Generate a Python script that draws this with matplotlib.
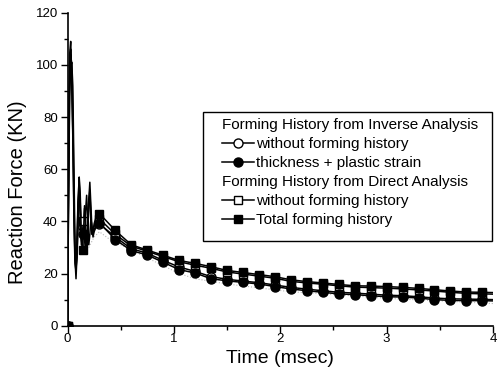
import matplotlib
matplotlib.use("Agg")
import matplotlib.pyplot as plt
from matplotlib.lines import Line2D
from matplotlib.patches import Rectangle

plt.rcParams['font.family'] = ['Liberation Sans', 'DejaVu Sans']

# ---- data ----
time_ms = [0.00, 0.01, 0.02, 0.03, 0.04, 0.05, 0.06, 0.07, 0.08, 0.09,
           0.10, 0.11, 0.12, 0.13, 0.14, 0.15, 0.16, 0.17, 0.18, 0.19,
           0.20, 0.21, 0.22, 0.23, 0.24, 0.25, 0.27,
           0.30, 0.45, 0.60, 0.75, 0.90, 1.05, 1.20, 1.35, 1.50, 1.65,
           1.80, 1.95, 2.10, 2.25, 2.40, 2.55, 2.70, 2.85, 3.00, 3.15,
           3.30, 3.45, 3.60, 3.75, 3.90, 4.00]

inv_without = [0, 48, 88, 99, 101, 92, 62, 32, 22, 26,
               40, 57, 50, 36, 31, 38, 45, 36, 29, 35,
               47, 52, 42, 36, 35, 37, 38,
               39.0, 34.0, 29.5, 27.8, 25.0, 22.5, 20.8, 18.8, 17.8, 17.1,
               16.5, 15.6, 14.7, 14.0, 13.4, 12.8, 12.5, 12.1, 11.7, 11.5,
               11.1, 10.6, 10.3, 10.2, 10.1, 10.0]

inv_thick_plastic = [0, 50, 92, 104, 100, 82, 52, 26, 18, 28,
                     44, 54, 47, 34, 30, 35, 46, 40, 30, 33,
                     48, 55, 46, 37, 34, 36, 38,
                     39.5, 33.0, 28.8, 27.1, 24.3, 21.5, 20.2, 18.0, 17.2, 16.6,
                     16.0, 15.0, 14.1, 13.4, 12.8, 12.2, 11.9, 11.5, 11.1, 11.0,
                     10.6, 10.0, 9.7, 9.6, 9.6, 9.5]

dir_without = [0, 58, 100, 106, 92, 72, 46, 26, 24, 33,
               47, 52, 42, 31, 36, 40, 38, 30, 28, 38,
               48, 50, 40, 35, 36, 38, 40,
               41.0, 35.0, 30.5, 28.5, 26.5, 24.5, 23.2, 22.0, 20.6, 19.8,
               19.0, 18.2, 17.0, 16.4, 15.9, 15.3, 14.8, 14.6, 14.4, 14.1,
               13.7, 13.3, 12.8, 12.4, 12.2, 12.1]

dir_total = [0, 62, 104, 109, 96, 74, 42, 24, 21, 34,
             50, 56, 44, 33, 30, 29, 33, 44, 50, 40,
             31, 35, 41, 38, 36, 39, 42,
             43.0, 36.5, 31.0, 29.0, 27.0, 25.0, 23.9, 22.6, 21.2, 20.4,
             19.6, 18.8, 17.6, 16.9, 16.4, 15.8, 15.3, 15.2, 15.0, 14.7,
             14.3, 13.8, 13.3, 12.9, 12.8, 12.7]

faint_t = [0.20, 0.25, 0.30, 0.40, 0.50, 0.60, 0.75, 0.90, 1.05, 1.20,
           1.50, 1.80, 2.10, 2.50, 3.00, 3.50, 4.00]
faint_f = [30, 34, 36, 33, 31, 29, 26, 23, 20, 18,
           16, 14.5, 13, 12, 10.5, 9.5, 8.5]

marker_idx = [0, 15] + list(range(27, 52))

header_inverse = "Forming History from Inverse Analysis"
header_direct = "Forming History from Direct Analysis"
lab_inv_without = "without forming history"
lab_inv_thick = "thickness + plastic strain"
lab_dir_without = "without forming history"
lab_dir_total = "Total forming history"

x_ticks = [0, 1, 2, 3, 4]
y_ticks = [0, 20, 40, 60, 80, 100, 120]

# ---- figure ----
W, H = 503, 378
fig = plt.figure(figsize=(W / 100, H / 100), dpi=100)
ax = fig.add_axes([67.5 / W, 1 - 325.7 / H, 425.5 / W, 313 / H])

ax.plot(faint_t, faint_f, color='#b8b8b8', lw=0.8, ls=':', zorder=1)

l_oc, = ax.plot(time_ms, inv_without, color='black', lw=1.1, marker='o',
                mfc='white', mec='black', ms=6.5, markevery=marker_idx, zorder=2)
l_os, = ax.plot(time_ms, dir_without, color='black', lw=1.1, marker='s',
                mfc='white', mec='black', ms=6, markevery=marker_idx, zorder=2)
l_fc, = ax.plot(time_ms, inv_thick_plastic, color='black', lw=1.1, marker='o',
                mfc='black', mec='black', ms=6.5, markevery=marker_idx, zorder=3)
l_fs, = ax.plot(time_ms, dir_total, color='black', lw=1.1, marker='s',
                mfc='black', mec='black', ms=6, markevery=marker_idx, zorder=3)

ax.set_xlim(0, 4)
ax.set_ylim(0, 120)
ax.set_xticks(x_ticks)
ax.set_yticks(y_ticks)
ax.set_xticks([0.5, 1.5, 2.5, 3.5], minor=True)
ax.set_yticks([10, 30, 50, 70, 90, 110], minor=True)
ax.tick_params(axis='both', which='major', direction='out', length=5, width=1,
               labelsize=9.5)
ax.tick_params(axis='x', which='major', pad=0.5)
ax.tick_params(axis='y', which='major', pad=2)
ax.tick_params(axis='both', which='minor', direction='out', length=3, width=1)

for s in ['top', 'right']:
    ax.spines[s].set_visible(False)
for s in ['left', 'bottom']:
    ax.spines[s].set_linewidth(1.2)

ax.set_xlabel("Time (msec)", fontsize=14, labelpad=3)
ax.set_ylabel("Reaction Force (KN)", fontsize=14.5, labelpad=6)
ax.yaxis.label.set_y(0.4256)

# legend frame
frame = Rectangle((203 / W, 1 - 241 / H), (492 - 203) / W, (241 - 112) / H,
                  transform=fig.transFigure, facecolor='white',
                  edgecolor='black', linewidth=1.0, zorder=4, clip_on=False)
ax.add_patch(frame)

blank = Line2D([], [], linestyle='none', marker=None)
handles = [blank, l_oc, l_fc, blank, l_os, l_fs]
labels = [header_inverse, lab_inv_without, lab_inv_thick,
          header_direct, lab_dir_without, lab_dir_total]
leg = ax.legend(handles, labels, loc='upper left',
                bbox_to_anchor=(222 / W, 1 - 118 / H),
                bbox_transform=fig.transFigure, borderaxespad=0, borderpad=0,
                fontsize=11, frameon=False, handlelength=2.1, handletextpad=0.15,
                labelspacing=0.33)
leg.set_zorder(5)

# headers: no handle space
header_rows = {0, 3}
try:
    rows = []
    for col in leg._legend_handle_box.get_children():
        rows.extend(col.get_children())
    for i, row in enumerate(rows):
        if i in header_rows:
            row.sep = 0
            row.get_children()[0].width = 0
except Exception:
    pass

fig.savefig("out.png", dpi=100)
